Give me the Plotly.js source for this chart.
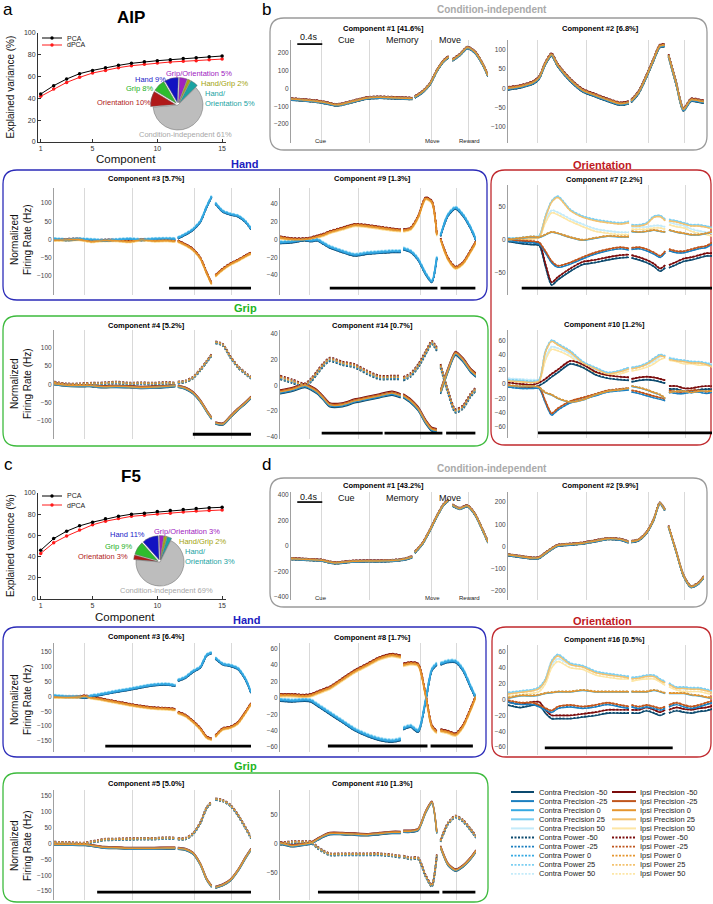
<!DOCTYPE html>
<html><head><meta charset="utf-8">
<script src="https://cdn.plot.ly/plotly-3.0.1.min.js"></script>
<style>html,body{margin:0;padding:0;background:#fff;}#chart{width:713px;height:904px;}</style>
</head><body><div id="chart"></div>
<script>
// ================= DATA =================
const COMPONENTS = [1,2,3,4,5,6,7,8,9,10,11,12,13,14,15];
const AIP_PCA  = [44,51.7,57.8,62.7,65.7,68.2,70.3,72.2,73.7,74.6,75.5,76.5,77.4,78.3,78.9];
const AIP_DPCA = [41.9,48.6,54.7,59.3,63.3,65.7,68.2,70,71.3,72.5,73.4,74,74.6,75.5,76.1];
const F5_PCA   = [46,57,64,69,72.5,75.6,78,80,81,82.5,83.4,84.4,85.3,86,86.5];
const F5_DPCA  = [43,53,59.4,65,70,73.4,76,78,79,80.3,81,82,83,83.4,84];

const PIE_LABELS = ['Orientation','Grip','Hand','Grip/Orientation','Hand/Grip','Hand/Orientation','Condition-independent'];
const AIP_PIE = [10,8,9,5,2,5,61];
const F5_PIE  = [3,9,11,3,2,3,69];

const HANDS = ['Contra','Ipsi'];
const GRIPS = ['Precision','Power'];
const ORIENTS = [-50,-25,0,25,50];
// small per-condition offsets (fraction of each bundle's width), order: contra prec, contra power, ipsi prec, ipsi power
const COND_OFFSET = [-1.0,-0.6,-0.2,0.3,0.7, -0.8,-0.4,0.1,0.5,0.9, 0.9,0.5,0.0,-0.4,-0.9, 1.0,0.6,0.2,-0.3,-0.7];

const EVENTS = [0.48,1.26,2.25,2.84];
const SCALE_BAR = [0.1,0.5];
const T_STD  = [0,0.2,0.4,0.5,0.6,0.7,0.8,1.0,1.2,1.4,1.6,1.8,1.94,null,1.98,2.1,2.22,2.34,2.44,2.52,null,2.58,2.7,2.82,2.94,3.06,3.15];
const T_WIDE = [0,0.2,0.4,0.5,0.6,0.7,0.8,1.0,1.2,1.4,1.6,1.8,1.94,null,1.98,2.1,2.22,2.34,2.44,2.52,null,2.58,2.7,2.82,2.94,3.06,3.18,3.27];

// AIP
const A1_ALL = [-60,-65,-72,-77,-84,-92,-90,-72,-55,-50,-52,-55,-57,null,-48,-20,25,105,155,178,null,160,190,230,205,140,72];
const A2_ALL = [0,5,15,28,65,88,60,22,-5,-18,-30,-40,-37,null,-33,-10,30,75,110,112,null,85,15,-55,-30,-32,-35];
const A3_CONTRA = [2,0,2,1,0,-1,-2,0,2,0,2,3,2,null,5,15,28,50,90,118,null,100,78,70,65,50,30];
const A3_IPSI   = [-2,-1,0,-3,-6,-4,-3,-3,-6,-1,-4,-3,-5,null,-5,-15,-28,-52,-92,-122,null,-100,-82,-68,-58,-46,-38];
const A9_CONTRA = [-3,-2,0,-1,0,-4,-8,-13,-17,-15,-14,-13,-13,null,-10,-13,-22,-38,-47,-20,null,5,28,36,28,14,0];
const A9_IPSI   = [2,0,0,1,3,5,8,12,16,15,13,11,10,null,10,12,25,46,42,5,null,0,-22,-32,-27,-14,-3];
const A4_POWER  = [5,0,0,1,2,2,3,5,2,3,2,4,2,null,5,8,18,40,62,80,null,115,108,75,48,30,18];
const A4_PREC   = [2,-2,-3,-3,-3,-5,-6,-5,-6,-8,-7,-5,-3,null,-5,-10,-22,-45,-72,-92,null,-105,-108,-88,-68,-50,-35];
const A14_POWER = [6,3,0,4,10,16,20,17,15,10,6,6,6,null,5,8,15,25,33,28,null,15,-5,-20,-17,-8,-3];
const A14_PREC  = [-5,-3,0,-2,-5,-10,-15,-15,-12,-10,-8,-6,-8,null,-8,-12,-18,-28,-34,-35,null,-5,12,25,20,12,8];
const A7_M50 = [0,-3,-5,-6,-38,-66,-58,-45,-35,-32,-28,-25,-24,null,-25,-28,-32,-38,-45,-40,null,-40,-35,-30,-28,-25,-22,-22];
const A7_M25 = [0,-2,-3,-5,-18,-33,-40,-35,-27,-20,-15,-12,-14,null,-13,-12,-15,-20,-25,-18,null,-15,-18,-18,-15,-12,-10,-5];
const A7_Z   = [0,3,5,4,8,12,10,4,0,3,6,5,5,null,13,12,13,15,13,12,null,15,12,10,8,8,10,12];
const A7_P25 = [2,2,3,5,35,58,65,45,35,30,27,25,27,null,22,22,25,35,36,30,null,30,28,25,22,22,20,18];
const A7_P50 = [0,2,4,5,28,43,40,30,22,15,12,10,10,null,18,18,18,20,20,18,null,25,22,20,15,12,10,8];
const A10_M50 = [0,-2,-3,0,5,12,18,30,25,15,10,8,7,null,5,7,8,7,5,3,null,-5,-5,-8,-8,-6,-5,-5];
const A10_M25 = [-3,-5,-5,-5,-25,-42,-35,-25,-20,-15,-10,-8,-7,null,-10,-12,-15,-18,-20,-22,null,-10,-12,-12,-10,-10,-12,-10];
const A10_Z   = [-2,-3,-3,-5,-12,-15,-20,-25,-22,-15,-10,-8,-6,null,-3,-5,-8,-12,-15,-20,null,-12,-10,-10,-12,-10,-10,-10];
const A10_P25 = [5,4,3,5,45,60,55,45,30,22,15,18,22,null,22,24,28,35,40,38,null,35,33,32,30,30,28,25];
const A10_P50 = [6,5,4,5,35,50,48,40,25,18,14,16,20,null,20,22,25,30,36,38,null,35,33,30,30,28,28,26];
// F5
const F1_ALL = [-100,-105,-110,-113,-125,-133,-130,-120,-118,-118,-115,-105,-85,null,-50,18,123,241,325,360,null,320,294,315,250,130,30];
const F2_ALL = [-37,-45,-52,-50,-30,-10,5,10,15,25,35,32,20,null,22,30,60,120,195,165,null,90,-20,-130,-180,-165,-135];
const F3_CONTRA = [3,0,0,-2,3,6,10,18,25,33,40,42,38,null,55,65,85,100,140,148,null,130,110,105,95,60,15];
const F3_IPSI   = [-2,-3,-2,0,-5,-8,-12,-20,-28,-35,-40,-42,-45,null,-55,-65,-85,-110,-138,-145,null,-135,-110,-105,-90,-55,-25];
const F8_CONTRA = [-2,-3,-2,-3,-8,-13,-18,-28,-38,-45,-50,-52,-50,null,-37,-34,-40,-3,35,42,null,42,45,45,35,15,0];
const F8_IPSI   = [3,3,2,3,6,9,12,22,32,40,48,52,50,null,40,42,40,3,-35,-42,null,-40,-42,-45,-35,-15,2];
const F16_M50 = [-5,-8,-5,-5,-15,-22,-22,-22,-20,-18,-15,-15,-15,null,-15,-15,-12,-15,-18,-15,null,-15,-12,-14,-15,-13,-12,-10];
const F16_M25 = [-2,-5,-5,-8,-12,-15,-10,-8,-10,-8,-5,-8,-10,null,-8,-10,-8,-10,-12,-10,null,-8,-5,-8,-10,-8,-5,-3];
const F16_Z   = [2,5,5,6,8,9,10,10,12,10,10,10,10,null,10,10,10,12,10,8,null,8,8,8,6,5,3,2];
const F16_P25 = [8,10,12,15,25,48,56,45,42,35,32,30,28,null,27,28,30,30,25,22,null,20,15,15,14,14,12,10];
const F16_P50 = [6,8,10,12,22,42,50,42,40,33,30,28,28,null,25,27,28,28,24,20,null,18,14,12,12,12,10,8];
const F5_POWER = [3,2,0,0,5,8,12,13,14,15,15,17,16,null,15,15,30,65,112,130,null,140,135,120,90,50,18];
const F5_PREC  = [-2,-2,-3,-3,-6,-9,-12,-13,-15,-15,-15,-14,-14,null,-15,-18,-30,-65,-112,-135,null,-138,-130,-115,-85,-45,-18];
const F10_PREC  = [2,-3,0,2,8,14,18,18,17,16,18,20,20,null,22,22,25,55,72,20,null,-5,-35,-45,-38,-25,-12];
const F10_POWER = [0,3,3,3,-6,-13,-18,-18,-18,-18,-18,-20,-22,null,-22,-25,-25,-55,-72,-20,null,5,35,47,40,25,12];

// significance bars (time intervals)
const SIG_A3 = [[1.84,3.15]];
const SIG_A9 = [[0.8,2.53],[2.58,3.14]];
const SIG_A4 = [[2.22,3.15]];
const SIG_A14 = [[0.67,1.65],[1.68,2.61],[2.67,3.14]];
const SIG_A7 = [[0.22,3.27]];
const SIG_A10 = [[0.48,3.27]];
const SIG_F3 = [[0.82,3.15]];
const SIG_F8 = [[0.77,2.37],[2.42,3.1]];
const SIG_F16 = [[0.59,2.64]];
const SIG_F5 = [[0.69,3.15]];
const SIG_F10 = [[0.61,2.56],[2.61,3.14]];

// ================= STYLE / LAYOUT =================
const W=713,H=904;
const FX=p=>p/W, FY=p=>1-p/H;
const FONT='Liberation Sans, Arial, Helvetica, sans-serif';
const CONTRA_COLORS=['#0c4a6e','#1b7fc0','#35a9e2','#7ccff2','#c4ebfa'];
const IPSI_COLORS=['#7b0c0c','#c0561d','#e5952e','#f4c26e','#fde6a6'];
const PIE_COLORS=['#b01818','#2ebd2e','#1212c2','#a020c0','#aaaa10','#1aa3a3','#bdbdbd'];

const traces=[];
const layout={width:W,height:H,margin:{l:0,r:0,t:0,b:0},paper_bgcolor:'#fff',plot_bgcolor:'rgba(0,0,0,0)',
  showlegend:false,font:{family:FONT,size:7,color:'#333'},annotations:[],shapes:[]};
function ann(text,x,y,size,color,extra){
  layout.annotations.push(Object.assign({text:text,x:FX(x),y:FY(y),xref:'paper',yref:'paper',showarrow:false,
    xanchor:'center',yanchor:'middle',font:{family:FONT,size:size,color:color}},extra||{}));
}
function rrect(x0,y0,x1,y1,r,color,w){
  const P=(x,y)=>FX(x).toFixed(5)+','+FY(y).toFixed(5);
  const path='M'+P(x0+r,y0)+' L'+P(x1-r,y0)+' Q'+P(x1,y0)+' '+P(x1,y0+r)+' L'+P(x1,y1-r)+' Q'+P(x1,y1)+' '+P(x1-r,y1)+
    ' L'+P(x0+r,y1)+' Q'+P(x0,y1)+' '+P(x0,y1-r)+' L'+P(x0,y0+r)+' Q'+P(x0,y0)+' '+P(x0+r,y0)+' Z';
  layout.shapes.push({type:'path',xref:'paper',yref:'paper',path:path,line:{color:color,width:w||1.3},fillcolor:'rgba(0,0,0,0)',layer:'below'});
}
function axName(n,p){return n===1?p:p+n;}

// ---- conditions
const CONDS=[];
HANDS.forEach(h=>GRIPS.forEach(g=>ORIENTS.forEach((o,k)=>{
  CONDS.push({name:h+' '+g+' '+o,hand:h,grip:g,k:k,color:(h==='Contra'?CONTRA_COLORS:IPSI_COLORS)[k],dash:g==='Power'?'dot':'solid'});
})));
// interleaved drawing order: palest first, mid tones on top, hands alternating
const DRAW_ORDER=[];
[4,0,3,1,2].forEach(k=>{ for(let g=1;g>=0;g--) for(let h=0;h<2;h++) DRAW_ORDER.push(h*10+g*5+k); });

// ---- variance plots
function varPlot(n,top,bottom,pca,dpca,legY1,legY2){
  layout[axName(n,'xaxis')]={domain:[FX(38),FX(226)],range:[0.79,15.3],anchor:axName(n,'y'),tickvals:[1,5,10,15],
    ticks:'inside',ticklen:3,tickcolor:'#333',showline:true,linecolor:'#333',linewidth:1,showgrid:false,zeroline:false,
    tickfont:{size:7,color:'#333'},fixedrange:true};
  layout[axName(n,'yaxis')]={domain:[FY(bottom),FY(top)],range:[0,100],anchor:axName(n,'x'),tickvals:[0,20,40,60,80,100],
    ticks:'inside',ticklen:3,tickcolor:'#333',showline:true,linecolor:'#333',linewidth:1,showgrid:false,zeroline:false,
    tickfont:{size:7,color:'#333'},fixedrange:true};
  traces.push({x:COMPONENTS,y:dpca,xaxis:axName(n,'x'),yaxis:axName(n,'y'),mode:'lines+markers',line:{color:'#ff1a1a',width:1},marker:{size:3.5,color:'#ff1a1a'},hoverinfo:'skip'});
  traces.push({x:COMPONENTS,y:pca,xaxis:axName(n,'x'),yaxis:axName(n,'y'),mode:'lines+markers',line:{color:'#000',width:1},marker:{size:3.5,color:'#000'},hoverinfo:'skip'});
  [[legY1,'#000','PCA'],[legY2,'#ff1a1a','dPCA']].forEach(([yy,c,t])=>{
    layout.shapes.push({type:'line',xref:'paper',yref:'paper',x0:FX(42),x1:FX(62),y0:FY(yy),y1:FY(yy),line:{color:c,width:1}});
    layout.shapes.push({type:'circle',xref:'paper',yref:'paper',x0:FX(50.3),x1:FX(53.7),y0:FY(yy+1.7),y1:FY(yy-1.7),fillcolor:c,line:{color:c,width:0}});
    ann(t,65,yy,7,'#222',{xanchor:'left'});
  });
  ann('Explained variance (%)',10,(top+bottom)/2,10,'#111',{textangle:-90});
}
varPlot(1,33,142,AIP_PCA,AIP_DPCA,38,45);
varPlot(2,493,599,F5_PCA,F5_DPCA,496,505);
ann('Component',126,159,11.5,'#111');
ann('Component',125,617,11.5,'#111');

// ---- pies
function pie(values,cx,cy,r,rot){
  const R=r*1.1;
  traces.push({type:'pie',values:values,labels:PIE_LABELS,sort:false,direction:'clockwise',rotation:rot,
    domain:{x:[FX(cx-R),FX(cx+R)],y:[FY(cy+R),FY(cy-R)]},marker:{colors:PIE_COLORS,line:{color:'#666',width:0.5}},
    textinfo:'none',hoverinfo:'skip',pull:[0.1,0.1,0.1,0.1,0.1,0.1,0],showlegend:false});
}
pie(AIP_PIE,178,105,25,265);
pie(F5_PIE,160,562,24,275);
// pie labels AIP
ann('Grip/Orientation 5%',199,73,7.5,'#a020c0');
ann('Hand/Grip 2%',224,83,7.5,'#a3a30c');
ann('Hand/<br>Orientation 5%',203,98.5,7.5,'#1aa3a3',{xanchor:'left',align:'left'});
ann('Hand 9%',150,79,7.5,'#1a1ac8');
ann('Grip 8%',139,89,7.5,'#22b022');
ann('Orientation 10%',124,102,7.5,'#b02020');
ann('Condition-independent 61%',185,135,7.5,'#a8a8a8');
// pie labels F5
ann('Grip/Orientation 3%',187,531,7.5,'#a020c0');
ann('Hand 11%',127,534,7.5,'#1a1ac8');
ann('Hand/Grip 2%',202,541,7.5,'#a3a30c');
ann('Grip 9%',118,546,7.5,'#22b022');
ann('Orientation 3%',103,556,7.5,'#b02020');
ann('Hand/<br>Orientation 3%',183,556.5,7.5,'#1aa3a3',{xanchor:'left',align:'left'});
ann('Condition-independent 69%',166,590,7.5,'#a8a8a8');

// ---- component panels
const PANELS=[
 {title:'Component #1 [41.6%]',ty:28,box:[291,40,488,143],yr:[-307,273],ticks:[-200,-100,0,100,200],t:T_STD,xr:[0,3.15],mode:'ci',g:{all:A1_ALL},sp:6,bar:250},
 {title:'Component #2 [6.8%]',ty:28,box:[508,40,704,143],yr:[-142,126],ticks:[-100,-50,0,50,100],t:T_STD,xr:[0,3.15],mode:'ci',g:{all:A2_ALL},sp:4},
 {title:'Component #3 [5.7%]',ty:179,box:[54,188,251,295],yr:[-152,141],ticks:[-100,-50,0,50,100],t:T_STD,xr:[0,3.15],mode:'hand',g:{contra:A3_CONTRA,ipsi:A3_IPSI},sp:3,sig:SIG_A3,sigY:-133},
 {title:'Component #9 [1.3%]',ty:179,box:[280,188,476,295],yr:[-62.5,58],ticks:[-40,-20,0,20,40],t:T_STD,xr:[0,3.15],mode:'hand',g:{contra:A9_CONTRA,ipsi:A9_IPSI},sp:1.6,sig:SIG_A9,sigY:-54.7},
 {title:'Component #4 [5.2%]',ty:325,box:[54,330,251,439],yr:[-149,149],ticks:[-100,-50,0,50,100],t:T_STD,xr:[0,3.15],mode:'grip',g:{prec:A4_PREC,power:A4_POWER},sp:3,sig:SIG_A4,sigY:-136},
 {title:'Component #14 [0.7%]',ty:325,box:[280,330,476,439],yr:[-41.6,43],ticks:[-40,-20,0,20,40],t:T_STD,xr:[0,3.15],mode:'grip',g:{prec:A14_PREC,power:A14_POWER},sp:1.6,sig:SIG_A14,sigY:-37},
 {title:'Component #7 [2.2%]',ty:180,box:[508,185,712,295],yr:[-83,83],ticks:[-50,0,50],t:T_WIDE,xr:[0,3.27],mode:'orient',g:[A7_M50,A7_M25,A7_Z,A7_P25,A7_P50],sp:2.2,sig:SIG_A7,sigY:-72.7},
 {title:'Component #10 [1.2%]',ty:324,box:[508,330,712,438],yr:[-75,75],ticks:[-60,-40,-20,0,20,40,60],t:T_WIDE,xr:[0,3.27],mode:'orient',g:[A10_M50,A10_M25,A10_Z,A10_P25,A10_P50],sp:2.2,sig:SIG_A10,sigY:-68},
 {title:'Component #1 [43.2%]',ty:485,box:[291,492,488,600],yr:[-424,424],ticks:[-400,-200,0,200,400],t:T_STD,xr:[0,3.15],mode:'ci',g:{all:F1_ALL},sp:7,bar:345},
 {title:'Component #2 [9.9%]',ty:485,box:[508,492,704,600],yr:[-240,245],ticks:[-200,-100,0,100,200],t:T_STD,xr:[0,3.15],mode:'ci',g:{all:F2_ALL},sp:4},
 {title:'Component #3 [6.4%]',ty:636,box:[54,643,251,752],yr:[-187,180],ticks:[-150,-100,-50,0,50,100,150],t:T_STD,xr:[0,3.15],mode:'hand',g:{contra:F3_CONTRA,ipsi:F3_IPSI},sp:4,sig:SIG_F3,sigY:-167},
 {title:'Component #8 [1.7%]',ty:637,box:[280,643,476,752],yr:[-66,67],ticks:[-60,-40,-20,0,20,40,60],t:T_STD,xr:[0,3.15],mode:'hand',g:{contra:F8_CONTRA,ipsi:F8_IPSI},sp:2,sig:SIG_F8,sigY:-58.7},
 {title:'Component #16 [0.5%]',ty:639,box:[508,645,712,755],yr:[-70,69],ticks:[-60,-40,-20,0,20,40,60],t:T_WIDE,xr:[0,3.27],mode:'orient',g:[F16_M50,F16_M25,F16_Z,F16_P25,F16_P50],sp:2.2,sig:SIG_F16,sigY:-61},
 {title:'Component #5 [5.0%]',ty:783,box:[54,790,251,900],yr:[-178,169],ticks:[-150,-100,-50,0,50,100,150],t:T_STD,xr:[0,3.15],mode:'grip',g:{prec:F5_PREC,power:F5_POWER},sp:3,sig:SIG_F5,sigY:-153},
 {title:'Component #10 [1.3%]',ty:783,box:[280,790,476,900],yr:[-96.5,93],ticks:[-50,0,50],t:T_STD,xr:[0,3.15],mode:'grip',g:{prec:F10_PREC,power:F10_POWER},sp:2,sig:SIG_F10,sigY:-83}
];

PANELS.forEach((p,i)=>{
  const n=i+3; const xa='x'+n, ya='y'+n;
  const [x0,y0,x1,y1]=p.box;
  layout['xaxis'+n]={domain:[FX(x0),FX(x1)],range:p.xr,anchor:ya,tickvals:EVENTS,showticklabels:false,ticks:'',
    showgrid:true,gridcolor:'#d9d9d9',gridwidth:1,zeroline:false,showline:false,fixedrange:true};
  layout['yaxis'+n]={domain:[FY(y1),FY(y0)],range:p.yr,anchor:xa,tickvals:p.ticks,ticks:'',showgrid:false,zeroline:false,
    showline:true,linecolor:'#a0a0a0',linewidth:1,tickfont:{size:6.5,color:'#444'},fixedrange:true};
  DRAW_ORDER.forEach(ci=>{
    const c=CONDS[ci];
    let base;
    if(p.mode==='ci') base=p.g.all;
    else if(p.mode==='hand') base=(c.hand==='Contra')?p.g.contra:p.g.ipsi;
    else if(p.mode==='grip') base=(c.grip==='Precision')?p.g.prec:p.g.power;
    else base=p.g[c.k];
    const y=base.map(v=>v===null?null:v+COND_OFFSET[ci]*p.sp);
    traces.push({x:p.t,y:y,xaxis:xa,yaxis:ya,mode:'lines',connectgaps:false,hoverinfo:'skip',
      line:{color:c.color,width:c.dash==='dot'?1.7:1.4,dash:c.dash==='dot'?'2px,1.6px':'solid',shape:'spline',smoothing:0.7}});
  });
  if(p.sig){
    p.sig.forEach(s=>traces.push({x:s,y:[p.sigY,p.sigY],xaxis:xa,yaxis:ya,mode:'lines',line:{color:'#000',width:2.8},hoverinfo:'skip'}));
  }
  if(p.bar!==undefined){
    traces.push({x:SCALE_BAR,y:[p.bar,p.bar],xaxis:xa,yaxis:ya,mode:'lines',line:{color:'#111',width:1.8},hoverinfo:'skip'});
  }
  ann('<b>'+p.title+'</b>',(x0+x1)/2-6,p.ty,7.5,'#000');
});

// comp-1 labels
[[37,40,141],[497,498,598]].forEach(([ys,yt,yb])=>{
  ann('0.4s',309,ys,9,'#111');
  ann('Cue',346,yt,9,'#111'); ann('Memory',402,yt,9,'#111'); ann('Move',450,yt,9,'#111');
  ann('Cue',321,yb,6,'#222'); ann('Move',432,yb,6,'#222'); ann('Reward',469,yb,6,'#222');
});

// boxes
rrect(270,18,707,150,14,'#9a9a9a');
rrect(3,170,487,300,14,'#2b2bb8');
rrect(491,170,711,445,14,'#c0282d');
rrect(3,316,488,446,14,'#3cba3c');
rrect(270,478,707,607,14,'#9a9a9a');
rrect(3,627,486,757,14,'#2b2bb8');
rrect(492,627,711,757,14,'#c0282d');
rrect(3,773,488,902,14,'#3cba3c');

// headings
ann('a',8,10,17,'#000'); ann('b',266,10,17,'#000'); ann('c',8,464,17,'#000'); ann('d',266,464,17,'#000');
ann('<b>AIP</b>',131,18,17,'#000'); ann('<b>F5</b>',131,477,17,'#000');
ann('<b>Condition-independent</b>',492,10,10,'#aaaaaa');
ann('<b>Condition-independent</b>',492,468,10,'#aaaaaa');
ann('<b>Hand</b>',245,164,11,'#2020c0'); ann('<b>Orientation</b>',602,165,11,'#c0181e'); ann('<b>Grip</b>',245,308,11,'#22b422');
ann('<b>Hand</b>',247,620,11,'#2020c0'); ann('<b>Orientation</b>',602,621,11,'#c0181e'); ann('<b>Grip</b>',245,766,11,'#22b422');
[240,384,700,846].forEach(yc=>ann('Normalized<br>Firing Rate (Hz)',21,yc,10,'#111',{textangle:-90}));

// condition legend
CONDS.forEach((c,ci)=>{
  const col=c.hand==='Contra'?0:1; const row=ci%10;
  const yy=792+row*9.1;
  const lx0=col?612:511, lx1=col?636:534, tx=col?638:537;
  layout.shapes.push({type:'line',xref:'paper',yref:'paper',x0:FX(lx0),x1:FX(lx1),y0:FY(yy),y1:FY(yy),
    line:{color:c.color,width:c.dash==='dot'?1.8:2,dash:c.dash==='dot'?'2px,1.5px':'solid'}});
  ann(c.name,tx,yy,7.5,'#222',{xanchor:'left'});
});

Plotly.newPlot('chart',traces,layout,{staticPlot:true});
</script>
</body></html>
